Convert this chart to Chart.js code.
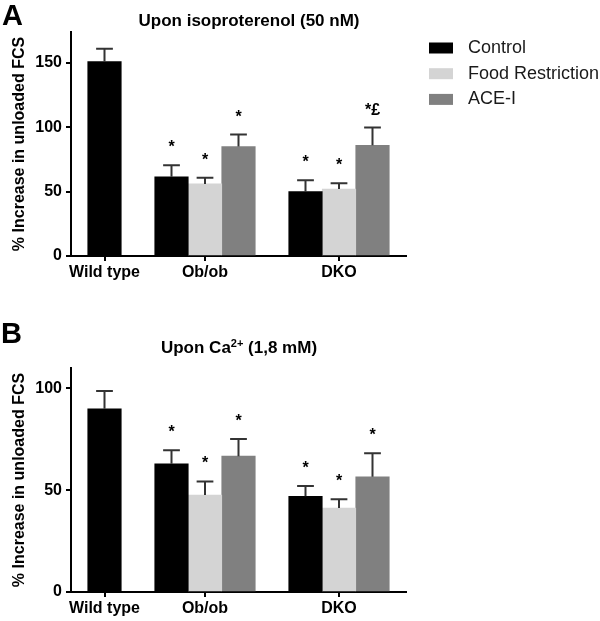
<!DOCTYPE html>
<html>
<head>
<meta charset="utf-8">
<script src="https://cdn.jsdelivr.net/npm/chart.js@4"></script>
<style>
  body { margin: 0; background: #fff; }
  canvas { display: block; }
</style>
</head>
<body>
<canvas id="chartA" width="600" height="300"></canvas>
<canvas id="chartB" width="600" height="321"></canvas>
<script>
// categories and series
const groups = ['Wild type', 'Ob/ob', 'DKO'];
const seriesNames = ['Control', 'Food Restriction', 'ACE-I'];

// A: upon isoproterenol (50 nM)
const isoControl = [151, 61.5, 50];
const isoControlErr = [10, 9, 8.8];
const isoFood = [null, 56, 52];
const isoFoodErr = [null, 4.7, 4.6];
const isoAce = [null, 85, 86];
const isoAceErr = [null, 9.3, 13.8];
const isoControlMarks = ['', '*', '*'];
const isoFoodMarks = [null, '*', '*'];
const isoAceMarks = [null, '*', '*£'];
const isoTicks = [0, 50, 100, 150];

// B: upon Ca2+ (1,8 mM)
const caControl = [90, 63, 47];
const caControlErr = [8.7, 6.6, 5.1];
const caFood = [null, 47.6, 41.2];
const caFoodErr = [null, 6.7, 4.4];
const caAce = [null, 66.7, 56.6];
const caAceErr = [null, 8.4, 11.5];
const caControlMarks = ['', '*', '*'];
const caFoodMarks = [null, '*', '*'];
const caAceMarks = [null, '*', '*'];
const caTicks = [0, 50, 100];

const colors = ['#000000', '#d4d4d4', '#808080'];
const FONT = "'Liberation Sans', Arial, Helvetica, sans-serif";
Chart.defaults.font.family = FONT;
Chart.defaults.color = '#000';

// wild type only has the control bar, the other groups have three bars side by side
function slotFor(gi, si) {
  return gi === 0 ? 0 : gi * 4 - 2 + si;
}
const tickSlots = groups.map((g, gi) => slotFor(gi, gi === 0 ? 0 : 1));

function makeDatasets(values, errs, marks) {
  return seriesNames.map((name, si) => {
    const data = [];
    values[si].forEach((v, gi) => {
      if (v === null) return;
      data.push({ x: slotFor(gi, si), y: v, err: errs[si][gi], mark: marks[si][gi] });
    });
    return {
      label: name,
      data: data,
      backgroundColor: colors[si],
      borderWidth: 0,
      grouped: false,
      barPercentage: 1,
      categoryPercentage: 1
    };
  });
}

const errorBars = {
  id: 'errorBars',
  afterDatasetsDraw(chart) {
    const ctx = chart.ctx;
    const y = chart.scales.y;
    ctx.save();
    chart.data.datasets.forEach((ds, di) => {
      chart.getDatasetMeta(di).data.forEach((bar, i) => {
        const p = ds.data[i];
        const top = y.getPixelForValue(p.y + p.err);
        const half = bar.width / 4;
        ctx.strokeStyle = '#333';
        ctx.lineWidth = 2;
        ctx.beginPath();
        ctx.moveTo(bar.x, bar.y);
        ctx.lineTo(bar.x, top);
        ctx.moveTo(bar.x - half, top);
        ctx.lineTo(bar.x + half, top);
        ctx.stroke();
        if (p.mark) {
          ctx.fillStyle = '#000';
          ctx.font = 'bold 16px ' + FONT;
          ctx.textAlign = 'center';
          ctx.textBaseline = 'alphabetic';
          ctx.fillText(p.mark, bar.x, top - 13);
        }
      });
    });
    ctx.restore();
  }
};

const panelText = {
  id: 'panelText',
  afterDraw(chart, args, opts) {
    const ctx = chart.ctx;
    ctx.save();
    ctx.fillStyle = '#000';
    ctx.textBaseline = 'alphabetic';
    ctx.textAlign = 'left';
    ctx.font = 'bold 29px ' + FONT;
    ctx.fillText(opts.letter, opts.letterX, opts.letterY);

    // title, possibly with a superscript part
    const big = 'bold 17px ' + FONT, small = 'bold 11px ' + FONT;
    let total = 0;
    opts.title.forEach(part => {
      ctx.font = part.sup ? small : big;
      total += ctx.measureText(part.text).width;
    });
    let x = opts.titleX - total / 2;
    opts.title.forEach(part => {
      ctx.font = part.sup ? small : big;
      ctx.fillText(part.text, x, opts.titleY - (part.sup ? 6 : 0));
      x += ctx.measureText(part.text).width;
    });

    if (opts.legend) {
      ctx.font = '18px ' + FONT;
      ctx.textBaseline = 'middle';
      chart.data.datasets.forEach((ds, i) => {
        const cy = 48 + i * 25.7;
        ctx.fillStyle = ds.backgroundColor;
        ctx.fillRect(429, cy - 5.5, 24, 11);
        ctx.fillStyle = '#1a1a1a';
        ctx.fillText(ds.label, 468, cy);
      });
    }
    ctx.restore();
  }
};

function makeChart(id, datasets, yMax, yTicks, pad, text) {
  return new Chart(document.getElementById(id), {
    type: 'bar',
    data: { datasets: datasets },
    plugins: [errorBars, panelText],
    options: {
      responsive: false,
      animation: false,
      layout: { padding: pad },
      plugins: {
        legend: { display: false },
        tooltip: { enabled: false },
        panelText: text
      },
      scales: {
        x: {
          type: 'linear',
          min: -1,
          max: 9,
          offset: false,
          afterBuildTicks: s => { s.ticks = tickSlots.map(v => ({ value: v })); },
          afterFit: s => { s.height = 29; },
          ticks: {
            callback: (v, i) => groups[i],
            font: { size: 16, weight: 'bold' },
            color: '#000',
            padding: 2,
            maxRotation: 0
          },
          grid: { offset: false, drawOnChartArea: false, tickLength: 5, color: '#000', lineWidth: 2 },
          border: { color: '#000', width: 2 }
        },
        y: {
          min: 0,
          max: yMax,
          afterBuildTicks: s => { s.ticks = yTicks.map(v => ({ value: v })); },
          afterFit: s => { s.width = 71; },
          ticks: { font: { size: 16, weight: 'bold' }, color: '#000', padding: 4 },
          grid: { drawOnChartArea: false, tickLength: 5, color: '#000', lineWidth: 2 },
          border: { color: '#000', width: 2 },
          title: {
            display: true,
            text: '% Increase in unloaded FCS',
            font: { size: 16, weight: 'bold' },
            color: '#000',
            padding: { top: 10, bottom: 0 }
          }
        }
      }
    }
  });
}

makeChart('chartA',
  makeDatasets([isoControl, isoFood, isoAce], [isoControlErr, isoFoodErr, isoAceErr],
    [isoControlMarks, isoFoodMarks, isoAceMarks]),
  174, isoTicks,
  { top: 32, left: 0, right: 194, bottom: 15 },
  { letter: 'A', letterX: 2, letterY: 25, titleX: 249, titleY: 26, legend: true,
    title: [{ text: 'Upon isoproterenol (50 nM)' }] });

makeChart('chartB',
  makeDatasets([caControl, caFood, caAce], [caControlErr, caFoodErr, caAceErr],
    [caControlMarks, caFoodMarks, caAceMarks]),
  110, caTicks,
  { top: 68, left: 0, right: 194, bottom: 0 },
  { letter: 'B', letterX: 1, letterY: 43, titleX: 239, titleY: 53, legend: false,
    title: [{ text: 'Upon Ca' }, { text: '2+', sup: true }, { text: ' (1,8 mM)' }] });
</script>
</body>
</html>
